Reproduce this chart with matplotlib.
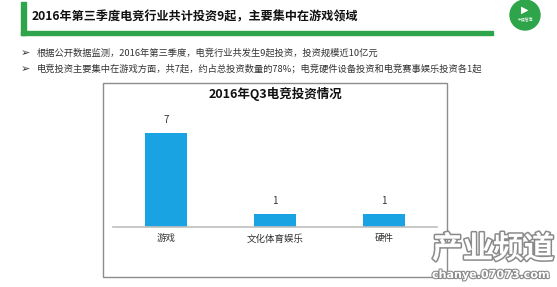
import matplotlib.pyplot as plt
import matplotlib.patheffects as pe
from matplotlib.patches import Rectangle, Ellipse

plt.rcParams['font.family'] = ['Noto Sans CJK SC', 'DejaVu Sans']

# data
categories = ['游戏', '文化体育娱乐', '硬件']
counts = [7, 1, 1]

page_title = '2016年第三季度电竞行业共计投资9起，主要集中在游戏领域'
bullets = ['根据公开数据监测，2016年第三季度，电竞行业共发生9起投资，投资规模近10亿元',
           '电竞投资主要集中在游戏方面，共7起，约占总投资数量的78%；电竞硬件设备投资和电竞赛事娱乐投资各1起']
chart_title = '2016年Q3电竞投资情况'

W, H = 557, 287
fig = plt.figure(figsize=(W / 100, H / 100), dpi=100)
fig.patch.set_facecolor('white')


def fx(x):
    return x / W


def fy(y):
    return 1 - y / H


green = '#2ea54a'

# header bars
fig.patches.append(Rectangle((fx(21), fy(35)), fx(5), 33 / H, transform=fig.transFigure,
                             color=green, zorder=2))
fig.patches.append(Rectangle((fx(21), fy(35)), fx(472), 3.5 / H, transform=fig.transFigure,
                             color=green, zorder=2))
fig.text(fx(32), fy(17), page_title, fontsize=8.7, fontweight='bold', color='#111111',
         va='center', ha='left')

# logo
fig.patches.append(Ellipse((fx(525), fy(15)), 30 / W, 30 / H, transform=fig.transFigure,
                           color=green, zorder=2))
fig.text(fx(525), fy(10), '▶', fontsize=7, color='white', ha='center', va='center',
         family=['DejaVu Sans'])
fig.text(fx(525), fy(20), '中娱智库', fontsize=2.8, color='white', ha='center', va='center')

# bullets
for i, b in enumerate(bullets):
    y = fy(53 + 16 * i)
    fig.text(fx(21), y, '➢', fontsize=8, color='#333333', va='center', family=['DejaVu Sans'])
    fig.text(fx(37), y, b, fontsize=6.7, color='#333333', va='center')

# chart box
fig.patches.append(Rectangle((fx(103), fy(277)), fx(344), 194 / H, transform=fig.transFigure,
                             fill=False, edgecolor='#8c8c8c', lw=1.0, zorder=1))
fig.text(fx(275), fy(94), chart_title, fontsize=9.0, fontweight='bold', color='#111111',
         ha='center', va='center')

ax = fig.add_axes([fx(113), fy(227), fx(324), 107 / H])
x = range(len(categories))
ax.bar(x, counts, width=0.39, color='#1aa3e3', zorder=2)
ax.set_xlim(-0.49, 2.49)
ax.set_ylim(0, 8)
for xi, v in zip(x, counts):
    ax.text(xi, v + 0.6, str(v), ha='center', va='bottom', fontsize=7, color='#333333')
ax.set_xticks(list(x))
ax.set_xticklabels(categories, fontsize=6.8, color='#333333')
ax.tick_params(axis='x', length=0, pad=5)
ax.set_yticks([])
for s in ['top', 'right', 'left']:
    ax.spines[s].set_visible(False)
ax.spines['bottom'].set_color('#bfbfbf')
ax.spines['bottom'].set_linewidth(1.2)
ax.patch.set_alpha(0)

# watermark
fig.text(fx(432), fy(249), '产业频道', fontsize=22, fontweight='bold', color='white',
         ha='left', va='center',
         path_effects=[pe.withStroke(linewidth=2.2, foreground='#8a8a8a')])
fig.text(fx(432), fy(275), 'chanye.07073.com', fontsize=8, fontweight='bold', color='white',
         ha='left', va='center', family=['DejaVu Sans'],
         path_effects=[pe.withStroke(linewidth=1.6, foreground='#8a8a8a')])

fig.savefig('out.png', dpi=100)
